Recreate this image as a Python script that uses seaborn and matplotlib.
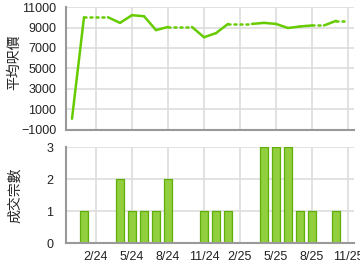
import numpy as np
import pandas as pd
import matplotlib
matplotlib.use("Agg")
import matplotlib.pyplot as plt
import seaborn as sns

# month index: 0 = Jan 2024
months = list(range(-1, 23))
avg_price = [100, 10000, np.nan, np.nan, 9450, 10200, 10100, 8750, 9050, np.nan, np.nan,
             8050, 8450, 9350, np.nan, np.nan, 9450, 9350, 8950, 9100, 9200, np.nan, 9650, np.nan]
bar_months = [0, 3, 4, 5, 6, 7, 10, 11, 12, 15, 16, 17, 18, 19, 21]
bar_counts = [1, 2, 1, 1, 1, 2, 1, 1, 1, 3, 3, 3, 1, 1, 1]
tick_pos = [1, 4, 7, 10, 13, 16, 19, 22]
tick_labels = ["2/24", "5/24", "8/24", "11/24", "2/25", "5/25", "8/25", "11/25"]

sns.set_style("white")
plt.rcParams['font.family'] = ['Liberation Sans', 'Noto Sans CJK TC', 'DejaVu Sans']

LINE = "#66cc00"
GRID = "#dddddd"
SPINE = "#999999"

fig = plt.figure(figsize=(3.6, 2.7), dpi=100)
ax1 = fig.add_axes([66/360, 1-130/270, 288/360, 123/270])
ax2 = fig.add_axes([66/360, 1-243/270, 288/360, 96/270])

# ---- top: line ----
s = pd.Series(avg_price, index=months)
filled = s.ffill()
has = s.notna()
for i in range(len(months) - 1):
    m0, m1 = months[i], months[i + 1]
    seg = pd.DataFrame({"m": [m0, m1], "v": [filled[m0], filled[m1]]})
    if has[m1]:
        sns.lineplot(data=seg, x="m", y="v", ax=ax1, color=LINE, lw=1.8,
                     solid_capstyle="round")
    else:
        sns.lineplot(data=seg, x="m", y="v", ax=ax1, color=LINE, lw=1.8,
                     linestyle=(0, (0.8, 1.6)), dash_capstyle="round")

ax1.set_xlim(-1.5, 22.5)
ax1.set_ylim(-1000, 11000)
ax1.set_yticks(range(-1000, 11001, 2000))
ax1.set_xticks(tick_pos)
ax1.set_xticklabels([])
ax1.set_xlabel("")
ax1.set_ylabel("平均呎價", fontsize=10)
ax1.yaxis.set_label_coords(-45/288, 0.55)

# ---- bottom: bars ----
bdf = pd.DataFrame({"m": bar_months, "n": bar_counts})
sns.barplot(data=bdf, x="m", y="n", ax=ax2, native_scale=True, width=0.68,
            color="#92cf3e", edgecolor="#5fae0a", linewidth=0.9, saturation=1)
ax2.set_xlim(-1.5, 22.5)
ax2.set_ylim(0, 3)
ax2.set_yticks([0, 1, 2, 3])
ax2.set_xticks(tick_pos)
ax2.set_xticklabels(tick_labels)
ax2.set_xlabel("")
ax2.set_ylabel("成交宗數", fontsize=10)
ax2.yaxis.set_label_coords(-44/288, 0.5)

for ax in (ax1, ax2):
    ax.grid(True, color=GRID, lw=1.2)
    ax.set_axisbelow(True)
    for sp in ("top", "right"):
        ax.spines[sp].set_visible(False)
    for sp in ("left", "bottom"):
        ax.spines[sp].set_color(SPINE)
        ax.spines[sp].set_linewidth(1.5)
    ax.tick_params(axis="both", labelsize=9, colors="#222222", length=0)
    ax.tick_params(axis="y", pad=7)
ax2.tick_params(axis="y", pad=9)
ax2.tick_params(axis="x", length=3, color=SPINE, pad=3)

fig.savefig("out.png", dpi=100)
